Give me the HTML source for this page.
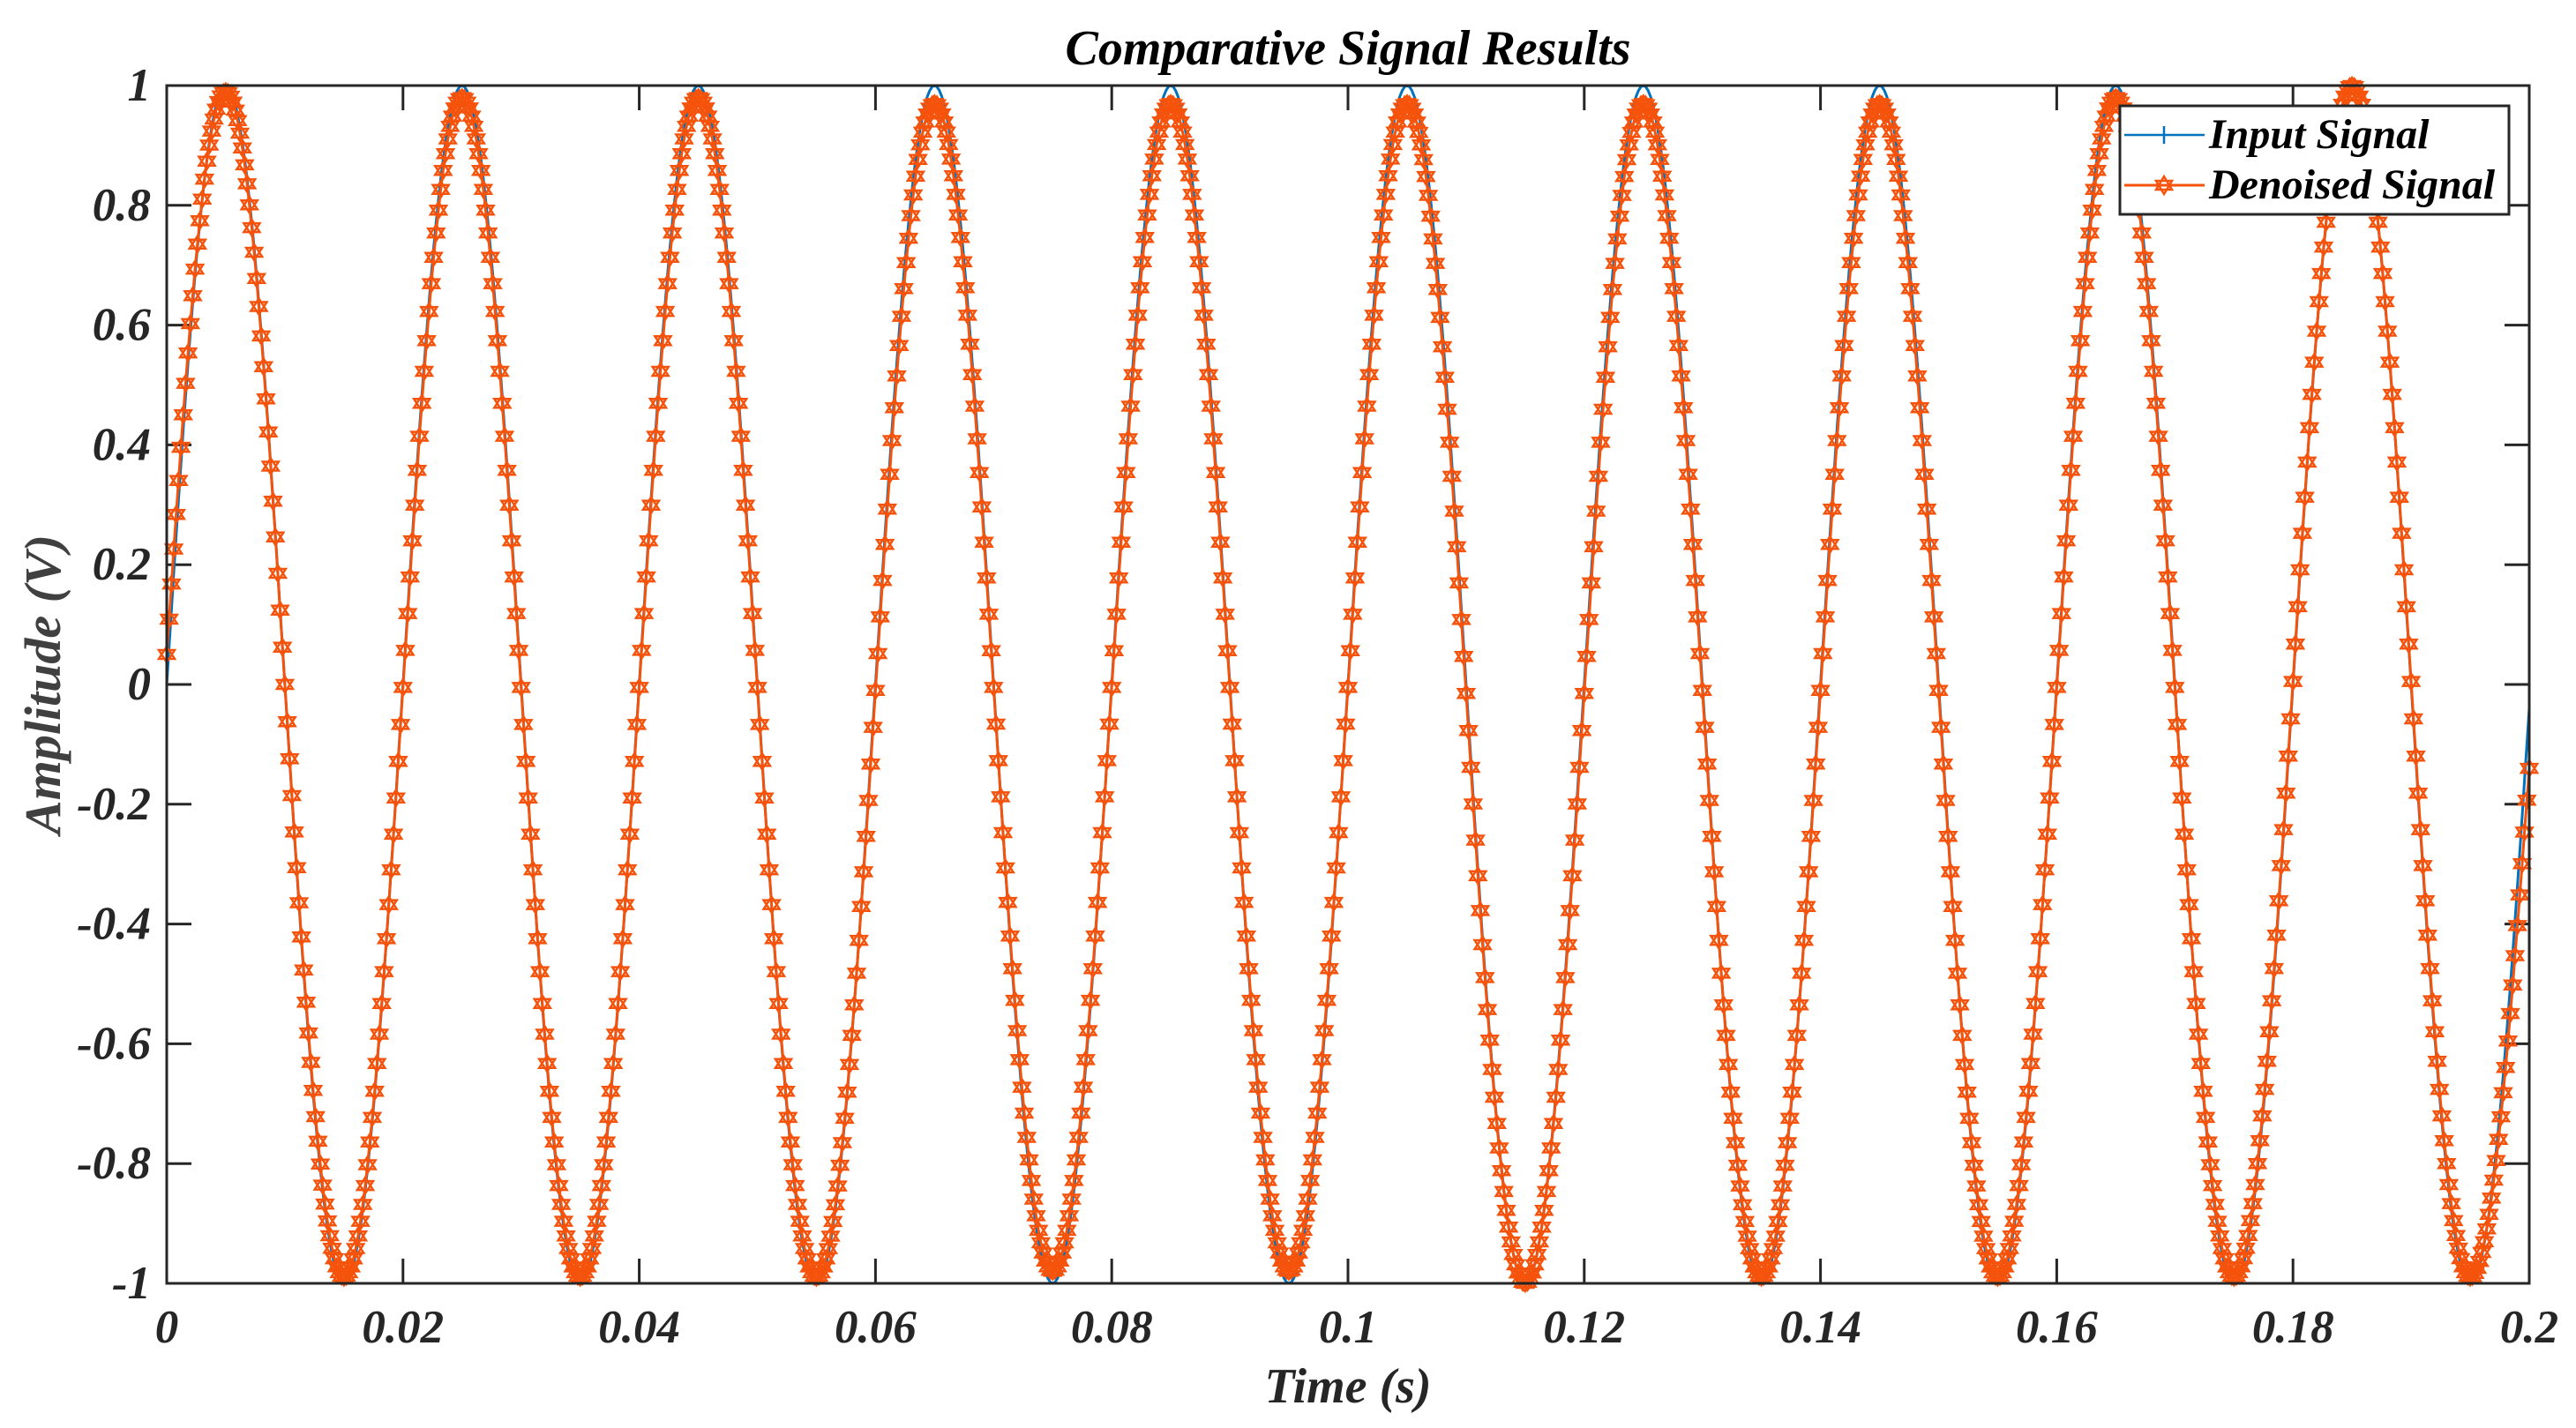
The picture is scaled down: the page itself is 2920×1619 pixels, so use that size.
<!DOCTYPE html>
<html><head><meta charset="utf-8"><style>
html,body{margin:0;padding:0;background:#fff;}
svg{display:block;}
text{font-family:"Liberation Serif","DejaVu Serif","Times New Roman",serif;font-weight:bold;font-style:italic;}
</style></head><body>
<svg id="chart" width="2920" height="1619" viewBox="0 0 2920 1619" xmlns="http://www.w3.org/2000/svg">
<rect x="0" y="0" width="2920" height="1619" fill="#fff"/>
<text x="1528" y="73" text-anchor="middle" font-size="56" fill="#000">Comparative Signal Results</text>
<text x="1528" y="1590" text-anchor="middle" font-size="56" fill="#262626">Time (s)</text>
<text transform="translate(68,776) rotate(-90)" text-anchor="middle" font-size="58" fill="#404040">Amplitude (V)</text>
<g id="ticks"></g>
<g id="series"></g>
<rect x="189" y="97" width="2678" height="1358" fill="none" stroke="#262626" stroke-width="3"/>
<g>
<rect x="2403" y="120" width="441" height="123" fill="#fff" stroke="#262626" stroke-width="3"/>
<line x1="2408" y1="153" x2="2499" y2="153" stroke="#0072BD" stroke-width="2.5"/>
<line x1="2453" y1="143" x2="2453" y2="163" stroke="#0072BD" stroke-width="2.5"/>
<text x="2504" y="168" font-size="48" fill="#000">Input Signal</text>
<line x1="2408" y1="210" x2="2499" y2="210" stroke="#F5520C" stroke-width="3"/>
<path d="M2453,200 L2462,215 L2444,215 Z M2453,220 L2462,205 L2444,205 Z" fill="none" stroke="#F5520C" stroke-width="2.5"/>
<text x="2504" y="225" font-size="48" fill="#000">Denoised Signal</text>
</g>
</svg>
<script>
// Data
const xTicks = [0,0.02,0.04,0.06,0.08,0.1,0.12,0.14,0.16,0.18,0.2];
const xTickLabels = ["0","0.02","0.04","0.06","0.08","0.1","0.12","0.14","0.16","0.18","0.2"];
const yTicks = [-1,-0.8,-0.6,-0.4,-0.2,0,0.2,0.4,0.6,0.8,1];
const yTickLabels = ["-1","-0.8","-0.6","-0.4","-0.2","0","0.2","0.4","0.6","0.8","1"];
// extrema of the signal (time, value)
const extremaTimes = [0,0.005,0.015,0.025,0.035,0.045,0.055,0.065,0.075,0.085,0.095,0.105,0.115,0.125,0.135,0.145,0.155,0.165,0.175,0.185,0.195,0.2];
const inputValues = [0,1.0,-1.0,1.0,-1.0,1.0,-1.0,1.0,-1.0,1.0,-1.0,1.0,-1.0,1.0,-1.0,1.0,-1.0,1.0,-1.0,1.0,-1.0,-0.04];
const denoisedValues = [0.05,0.99,-0.99,0.98,-0.99,0.98,-0.99,0.97,-0.98,0.97,-0.98,0.97,-1.0,0.97,-0.99,0.97,-0.99,0.98,-0.99,1.0,-0.99,-0.14];
const sampleStep = 0.0002;

const NS="http://www.w3.org/2000/svg";
const X0=189,X1=2867,Y0=1455,Y1=97;
function xs(t){return X0+(t-0)/(0.2-0)*(X1-X0);}
function ys(v){return Y0-(v-(-1))/(2)*(Y0-Y1);}
function valueAt(t, vals){
  for(let i=0;i<extremaTimes.length-1;i++){
    const a=extremaTimes[i],b=extremaTimes[i+1];
    if(t<=b+1e-12){
      const u=(t-a)/(b-a);
      const last=(i===extremaTimes.length-2), first=(i===0);
      if(first){ return vals[0]+(vals[1]-vals[0])*Math.sin(u*Math.PI/2); }
      if(last){ return vals[i]+(vals[i+1]-vals[i])*(1-Math.cos(u*Math.PI/2)); }
      return vals[i]+(vals[i+1]-vals[i])*(1-Math.cos(u*Math.PI))/2;
    }
  }
  return vals[vals.length-1];
}
const tg=document.getElementById('ticks');
xTicks.forEach((t,i)=>{
  const x=xs(t);
  const l1=document.createElementNS(NS,'line');
  l1.setAttribute('x1',x);l1.setAttribute('x2',x);l1.setAttribute('y1',Y0);l1.setAttribute('y2',Y0-28);
  l1.setAttribute('stroke','#262626');l1.setAttribute('stroke-width','3');
  
  
  tg.appendChild(l1);
  const l2=document.createElementNS(NS,'line');
  l2.setAttribute('x1',x);l2.setAttribute('x2',x);l2.setAttribute('y1',Y1);l2.setAttribute('y2',Y1+28);
  l2.setAttribute('stroke','#262626');l2.setAttribute('stroke-width','3');
  
  
  tg.appendChild(l2);
  const tx=document.createElementNS(NS,'text');
  tx.setAttribute('x',x);tx.setAttribute('y',1522);tx.setAttribute('text-anchor','middle');
  tx.setAttribute('font-size','53');tx.setAttribute('fill','#262626');
  tx.textContent=xTickLabels[i];
  
  
  tg.appendChild(tx);
});
yTicks.forEach((v,i)=>{
  const y=ys(v);
  const l1=document.createElementNS(NS,'line');
  l1.setAttribute('x1',X0);l1.setAttribute('x2',X0+28);l1.setAttribute('y1',y);l1.setAttribute('y2',y);
  l1.setAttribute('stroke','#262626');l1.setAttribute('stroke-width','3');
  
  
  tg.appendChild(l1);
  const l2=document.createElementNS(NS,'line');
  l2.setAttribute('x1',X1);l2.setAttribute('x2',X1-28);l2.setAttribute('y1',y);l2.setAttribute('y2',y);
  l2.setAttribute('stroke','#262626');l2.setAttribute('stroke-width','3');
  
  
  tg.appendChild(l2);
  const tx=document.createElementNS(NS,'text');
  tx.setAttribute('x',171);tx.setAttribute('y',y+17);tx.setAttribute('text-anchor','end');
  tx.setAttribute('font-size','53');tx.setAttribute('fill','#262626');
  tx.textContent=yTickLabels[i];
  
  
  tg.appendChild(tx);
});
const sg=document.getElementById('series');
const N=Math.round(0.2/sampleStep);
let dIn='',dDn='',dMk='';
for(let k=0;k<=N;k++){
  const t=k*sampleStep;
  const x=xs(t), yi=ys(valueAt(t,inputValues)), yd=ys(valueAt(t,denoisedValues));
  dIn+=(k?'L':'M')+x.toFixed(1)+','+yi.toFixed(1);
  dDn+=(k?'L':'M')+x.toFixed(1)+','+yd.toFixed(1);
  dMk+='M'+x.toFixed(1)+','+(yd-9).toFixed(1)+'l9,14h-18zM'+x.toFixed(1)+','+(yd+9).toFixed(1)+'l9,-14h-18z';
}
const pin=document.createElementNS(NS,'path');
pin.setAttribute('d',dIn);pin.setAttribute('fill','none');pin.setAttribute('stroke','#0072BD');pin.setAttribute('stroke-width','3');


sg.appendChild(pin);
const pdn=document.createElementNS(NS,'path');
pdn.setAttribute('d',dDn);pdn.setAttribute('fill','none');pdn.setAttribute('stroke','#F5520C');pdn.setAttribute('stroke-width','3');


sg.appendChild(pdn);
const pmk=document.createElementNS(NS,'path');
pmk.setAttribute('d',dMk);pmk.setAttribute('fill','none');pmk.setAttribute('stroke','#F5520C');pmk.setAttribute('stroke-width','2.5');


sg.appendChild(pmk);
</script>
</body></html>
